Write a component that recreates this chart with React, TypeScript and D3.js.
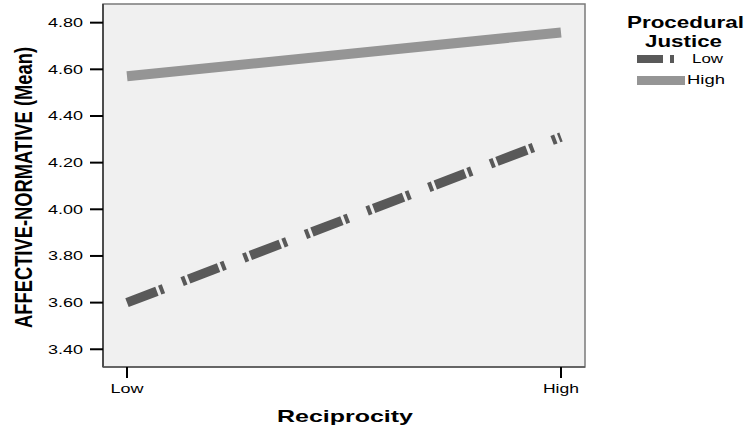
import React from "react";
import * as d3 from "d3";

const categories = ["Low", "High"];
const seriesNames = ["Low", "High"];
const lowValues = [3.6, 4.31];
const highValues = [4.57, 4.758];
const yTicks = [3.4, 3.6, 3.8, 4.0, 4.2, 4.4, 4.6, 4.8];

const W = 747;
const H = 428;
const plot = { left: 103, right: 585, top: 4, bottom: 367 };
const FONT = "'Liberation Sans', Arial, sans-serif";

export default function App() {
  const x = d3
    .scalePoint<string>()
    .domain(categories)
    .range([plot.left, plot.right])
    .padding(0.0553);
  const y = d3.scaleLinear().domain([3.324, 4.88]).range([plot.bottom, plot.top]);

  const line = d3
    .line<[string, number]>()
    .x((d) => x(d[0]) as number)
    .y((d) => y(d[1]));

  const lowPts: [string, number][] = categories.map((c, i) => [c, lowValues[i]]);
  const highPts: [string, number][] = categories.map((c, i) => [c, highValues[i]]);

  const dark = "#595959";
  const light = "#959595";

  return (
    <svg
      width={W}
      height={H}
      style={{ position: "absolute", left: 0, top: 0, background: "#fff" }}
      fontFamily={FONT}
    >
      <rect
        x={plot.left}
        y={plot.top}
        width={plot.right - plot.left}
        height={plot.bottom - plot.top}
        fill="#f0f0f0"
        stroke="#7a7a7a"
        strokeWidth={1.5}
      />
      <line x1={plot.left} x2={plot.left} y1={plot.top} y2={plot.bottom} stroke="#333" strokeWidth={1.5} />
      <line x1={plot.left} x2={plot.right} y1={plot.bottom} y2={plot.bottom} stroke="#555" strokeWidth={1.5} />

      {yTicks.map((t) => (
        <g key={t}>
          <line x1={90} x2={plot.left} y1={y(t)} y2={y(t)} stroke="#000" strokeWidth={2} />
          <text
            x={83}
            y={y(t) + 4.5}
            textAnchor="end"
            fontSize={13}
            textLength={35}
            lengthAdjust="spacingAndGlyphs"
            fill="#000"
          >
            {t.toFixed(2)}
          </text>
        </g>
      ))}

      {categories.map((c, i) => (
        <g key={c}>
          <line x1={x(c)} x2={x(c)} y1={plot.bottom} y2={378} stroke="#000" strokeWidth={2} />
          <text
            x={x(c)}
            y={392.5}
            textAnchor="middle"
            fontSize={13.5}
            textLength={i === 0 ? 33 : 36}
            lengthAdjust="spacingAndGlyphs"
            fill="#000"
          >
            {c}
          </text>
        </g>
      ))}

      <text
        x={345}
        y={421.5}
        textAnchor="middle"
        fontSize={17}
        fontWeight="bold"
        textLength={136}
        lengthAdjust="spacingAndGlyphs"
      >
        Reciprocity
      </text>

      <text
        transform="translate(31.5,187.5) rotate(-90)"
        textAnchor="middle"
        fontSize={23}
        fontWeight="bold"
        textLength={281}
        lengthAdjust="spacingAndGlyphs"
      >
        AFFECTIVE-NORMATIVE (Mean)
      </text>

      <path d={line(highPts) || ""} fill="none" stroke={light} strokeWidth={10} />
      <path
        d={line(lowPts) || ""}
        fill="none"
        stroke={dark}
        strokeWidth={9.5}
        strokeDasharray="32,3,4,20,4,3"
      />

      <text
        x={685.5}
        y={28}
        textAnchor="middle"
        fontSize={17}
        fontWeight="bold"
        textLength={117}
        lengthAdjust="spacingAndGlyphs"
      >
        Procedural
      </text>
      <text
        x={683.5}
        y={46.5}
        textAnchor="middle"
        fontSize={17}
        fontWeight="bold"
        textLength={77}
        lengthAdjust="spacingAndGlyphs"
      >
        Justice
      </text>

      <rect x={637} y={55} width={26} height={8} fill={dark} />
      <rect x={670} y={55} width={4} height={8} fill={dark} />
      <text x={692} y={63} fontSize={13.5} textLength={31} lengthAdjust="spacingAndGlyphs">
        {seriesNames[0]}
      </text>
      <rect x={637} y={76} width={48} height={9} fill={light} />
      <text x={687} y={83.5} fontSize={13.5} textLength={38} lengthAdjust="spacingAndGlyphs">
        {seriesNames[1]}
      </text>
    </svg>
  );
}
